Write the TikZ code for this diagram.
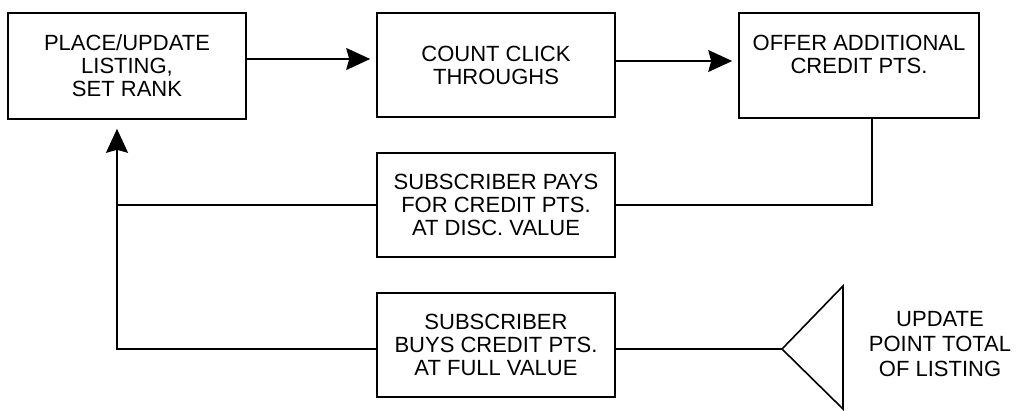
\documentclass[tikz,border=0pt]{standalone}
\usepackage{fontspec}
\setmainfont{Liberation Sans}
\usetikzlibrary{arrows.meta}
\begin{document}
\begin{tikzpicture}[x=1pt,y=-1pt,
  txt/.style={align=center, inner sep=0pt, font=\fontsize{22}{23}\selectfont},
  box/.style={txt, draw, line width=1.6pt, minimum width=238pt, minimum height=105pt},
  conn/.style={line width=1.6pt},
  arr/.style={conn, -{Stealth[length=24pt,width=22pt,inset=3pt]}},
]
\useasboundingbox (0,0) rectangle (1019,410);
\node[box, minimum height=106pt] (place) at (127,66) {PLACE/UPDATE\\LISTING,\\SET RANK};
\node[box, minimum height=104pt] (count) at (496,65) {COUNT CLICK\\THROUGHS};
\node[box, minimum width=240pt] (offer) at (859,65.5) {OFFER ADDITIONAL\\CREDIT PTS.\\\mbox{}};
\node[box, minimum height=104pt] (pays) at (496,205) {SUBSCRIBER PAYS\\FOR CREDIT PTS.\\AT DISC. VALUE};
\node[box, minimum height=104pt] (buys) at (496,345) {SUBSCRIBER\\BUYS CREDIT PTS.\\AT FULL VALUE};
\node[txt, font=\fontsize{22}{25}\selectfont] (update) at (940,344.5) {UPDATE\\POINT TOTAL\\OF LISTING};
\coordinate (apex) at (782,349);
\coordinate (tri1) at (843,286);
\coordinate (tri2) at (843,409);
\coordinate (c1) at (872,205);
\coordinate (jbot) at (117,349);
\draw[conn, line join=miter] (apex) -- (tri1) -- (tri2) -- cycle;
\draw[arr, shorten >=6pt] ([yshift=7pt]place.east) -- ([yshift=7pt]place.east -| count.west);
\draw[arr, shorten >=6pt] ([yshift=4pt]count.east) -- ([yshift=4pt]count.east -| offer.west);
\draw[conn] (offer.south -| c1) -- (c1) -- (pays.east);
\draw[conn] (pays.west) -- (pays.west -| jbot);
\draw[arr, shorten >=9pt, line join=miter] (buys.west |- jbot) -- (jbot) -- (jbot |- place.south);
\draw[conn] (buys.east |- apex) -- (apex);
\end{tikzpicture}
\end{document}
